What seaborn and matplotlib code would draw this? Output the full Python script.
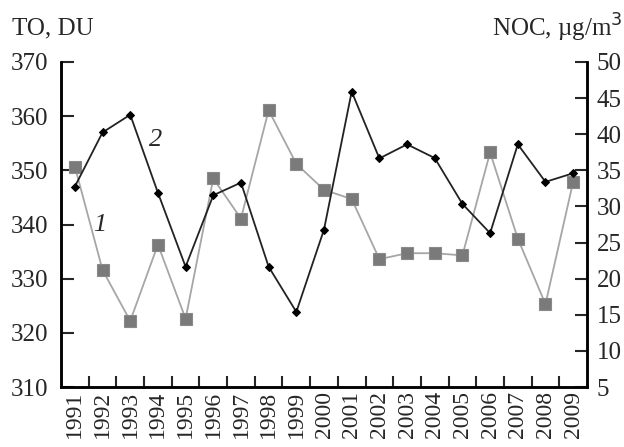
import matplotlib
matplotlib.use("Agg")
import matplotlib.pyplot as plt
import numpy as np
import pandas as pd
import seaborn as sns

# 数据
years = list(range(1991, 2010))
to_du = [350.7, 331.6, 322.2, 336.3, 322.6, 348.5, 341.1, 361.1, 351.2, 346.4,
         344.7, 333.6, 334.7, 334.7, 334.3, 353.3, 337.4, 325.3, 347.9]
noc = [32.75, 40.25, 42.7, 31.9, 21.65, 31.55, 33.3, 21.65, 15.4, 26.8,
       45.9, 36.65, 38.6, 36.7, 30.35, 26.3, 38.6, 33.4, 34.6]
left_ticks = [310, 320, 330, 340, 350, 360, 370]
right_ticks = [5, 10, 15, 20, 25, 30, 35, 40, 45, 50]

sns.set_theme(style="ticks")
plt.rcParams["font.family"] = ["Liberation Serif", "DejaVu Serif"]

df1 = pd.DataFrame({"year": years, "val": to_du})
df2 = pd.DataFrame({"year": years, "val": noc})

fig = plt.figure(figsize=(6.24, 4.47), dpi=100)
ax = fig.add_axes([0.0978, 0.1342, 0.8429, 0.7271])
ax2 = ax.twinx()

sns.lineplot(data=df1, x="year", y="val", ax=ax, color="#a6a6a6", lw=1.3,
             marker="s", markersize=8, markerfacecolor="#7a7a7a",
             markeredgecolor="#8a8a8a", markeredgewidth=0.8)
sns.lineplot(data=df2, x="year", y="val", ax=ax2, color="#222222", lw=1.3,
             marker="D", markersize=4.5, markerfacecolor="black",
             markeredgecolor="black")

ax.set_xlim(1990.5, 2009.5)
ax.set_ylim(310, 370)
ax2.set_ylim(5, 50)
ax.set_yticks(left_ticks)
ax2.set_yticks(right_ticks)
ax.set_xticks(years)
ax.set_xticklabels([str(y) for y in years], rotation=90)
ax.set_xticks(np.arange(1991.5, 2009, 1.0), minor=True)
ax.tick_params(axis="x", which="major", length=0, pad=3, labelsize=17)
ax.tick_params(axis="x", which="minor", direction="in", length=8, width=1.5)
ax.tick_params(axis="y", direction="in", length=9, width=1.5, labelsize=18, pad=9)
ax2.tick_params(axis="y", direction="in", length=9, width=1.5, labelsize=18, pad=7)
ax.set_xlabel("")
ax.set_ylabel("")
ax2.set_ylabel("")

for a in (ax, ax2):
    a.spines["top"].set_visible(False)
    for s in ("left", "bottom", "right"):
        a.spines[s].set_linewidth(1.8)
        a.spines[s].set_color("black")

fig.text(0.02, 0.937, "TO, DU", fontsize=18, ha="left", va="center")
fig.text(0.998, 0.937, "NOC, µg/m$^3$", fontsize=18, ha="right", va="center")

ax.text(1991.9, 339.9, "1", fontsize=19, style="italic", ha="center", va="center")
ax.text(1993.9, 355.6, "2", fontsize=19, style="italic", ha="center", va="center")

fig.savefig("out.png", dpi=100)
